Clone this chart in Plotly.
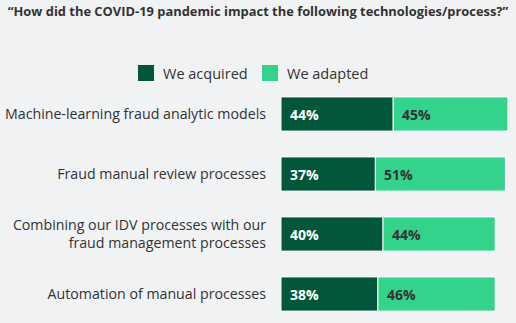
import plotly.graph_objects as go

categories = [
    "Machine-learning fraud analytic models",
    "Fraud manual review processes",
    "Combining our IDV processes with our<br>fraud management processes",
    "Automation of manual processes",
]
acquired = [44, 37, 40, 38]
adapted = [45, 51, 44, 46]
series_names = ["We acquired", "We adapted"]
title_text = "\u201cHow did the COVID-19 pandemic impact the following technologies/process?\u201d"

DARK = "#02573b"
LIGHT = "#33d38c"
BG = "#f1f2f4"
TEXT = "#333333"
FONT = "Open Sans"

W, H = 516, 323
ML, MT = 281, 84
PW = W - ML

ypos = list(range(len(categories)))
colors = [DARK, LIGHT]

fig = go.Figure()
fig.add_trace(go.Bar(
    y=ypos, x=acquired, name=series_names[0], orientation="h",
    marker=dict(color=DARK, line=dict(color="white", width=1)),
    width=0.57, showlegend=False,
))
fig.add_trace(go.Bar(
    y=ypos, x=adapted, base=acquired, name=series_names[1], orientation="h",
    marker=dict(color=LIGHT, line=dict(color="white", width=1)),
    width=0.57, showlegend=False,
))

# value labels near the left edge of each segment
for i, (a, d) in enumerate(zip(acquired, adapted)):
    fig.add_annotation(x=0, y=i, text=f"<b>{a}%</b>", showarrow=False,
                       xanchor="left", xshift=7, font=dict(color="white", size=14, family=FONT))
    fig.add_annotation(x=a, y=i, text=f"<b>{d}%</b>", showarrow=False,
                       xanchor="left", xshift=7, font=dict(color=TEXT, size=14, family=FONT))


def px_x(p):
    return (p - ML) / PW


def px_y(p):
    return 1 - (p - MT) / (H - MT)


# legend: coloured squares with their series names
legend_x = [138, 262]
for lx, name, col in zip(legend_x, series_names, colors):
    fig.add_shape(type="rect", xref="paper", yref="paper",
                  x0=px_x(lx), x1=px_x(lx + 16), y0=px_y(81), y1=px_y(65),
                  fillcolor=col, line=dict(width=0))
    fig.add_annotation(xref="paper", yref="paper", x=px_x(lx + 23), y=px_y(73),
                       text=name, showarrow=False, xanchor="left", yanchor="middle",
                       font=dict(size=14.5, color=TEXT, family=FONT))

fig.update_layout(
    width=W, height=H,
    margin=dict(l=ML, r=0, t=MT, b=0, autoexpand=False),
    paper_bgcolor=BG, plot_bgcolor=BG,
    barmode="overlay",
    showlegend=False,
    title=dict(text=f"<b>{title_text}</b>", x=0.5, xref="container", xanchor="center",
               y=1 - 11 / H, yref="container", yanchor="middle",
               font=dict(size=12.9, color=TEXT, family=FONT)),
    xaxis=dict(range=[0, PW / 2.55], visible=False),
    yaxis=dict(range=[3.483, -0.5], tickvals=ypos, ticktext=categories,
               showgrid=False, zeroline=False, showline=False, ticks="",
               ticklabelstandoff=14,
               tickfont=dict(size=14.2, color=TEXT, family=FONT)),
    font=dict(family=FONT),
)

fig.write_html("out.html")
